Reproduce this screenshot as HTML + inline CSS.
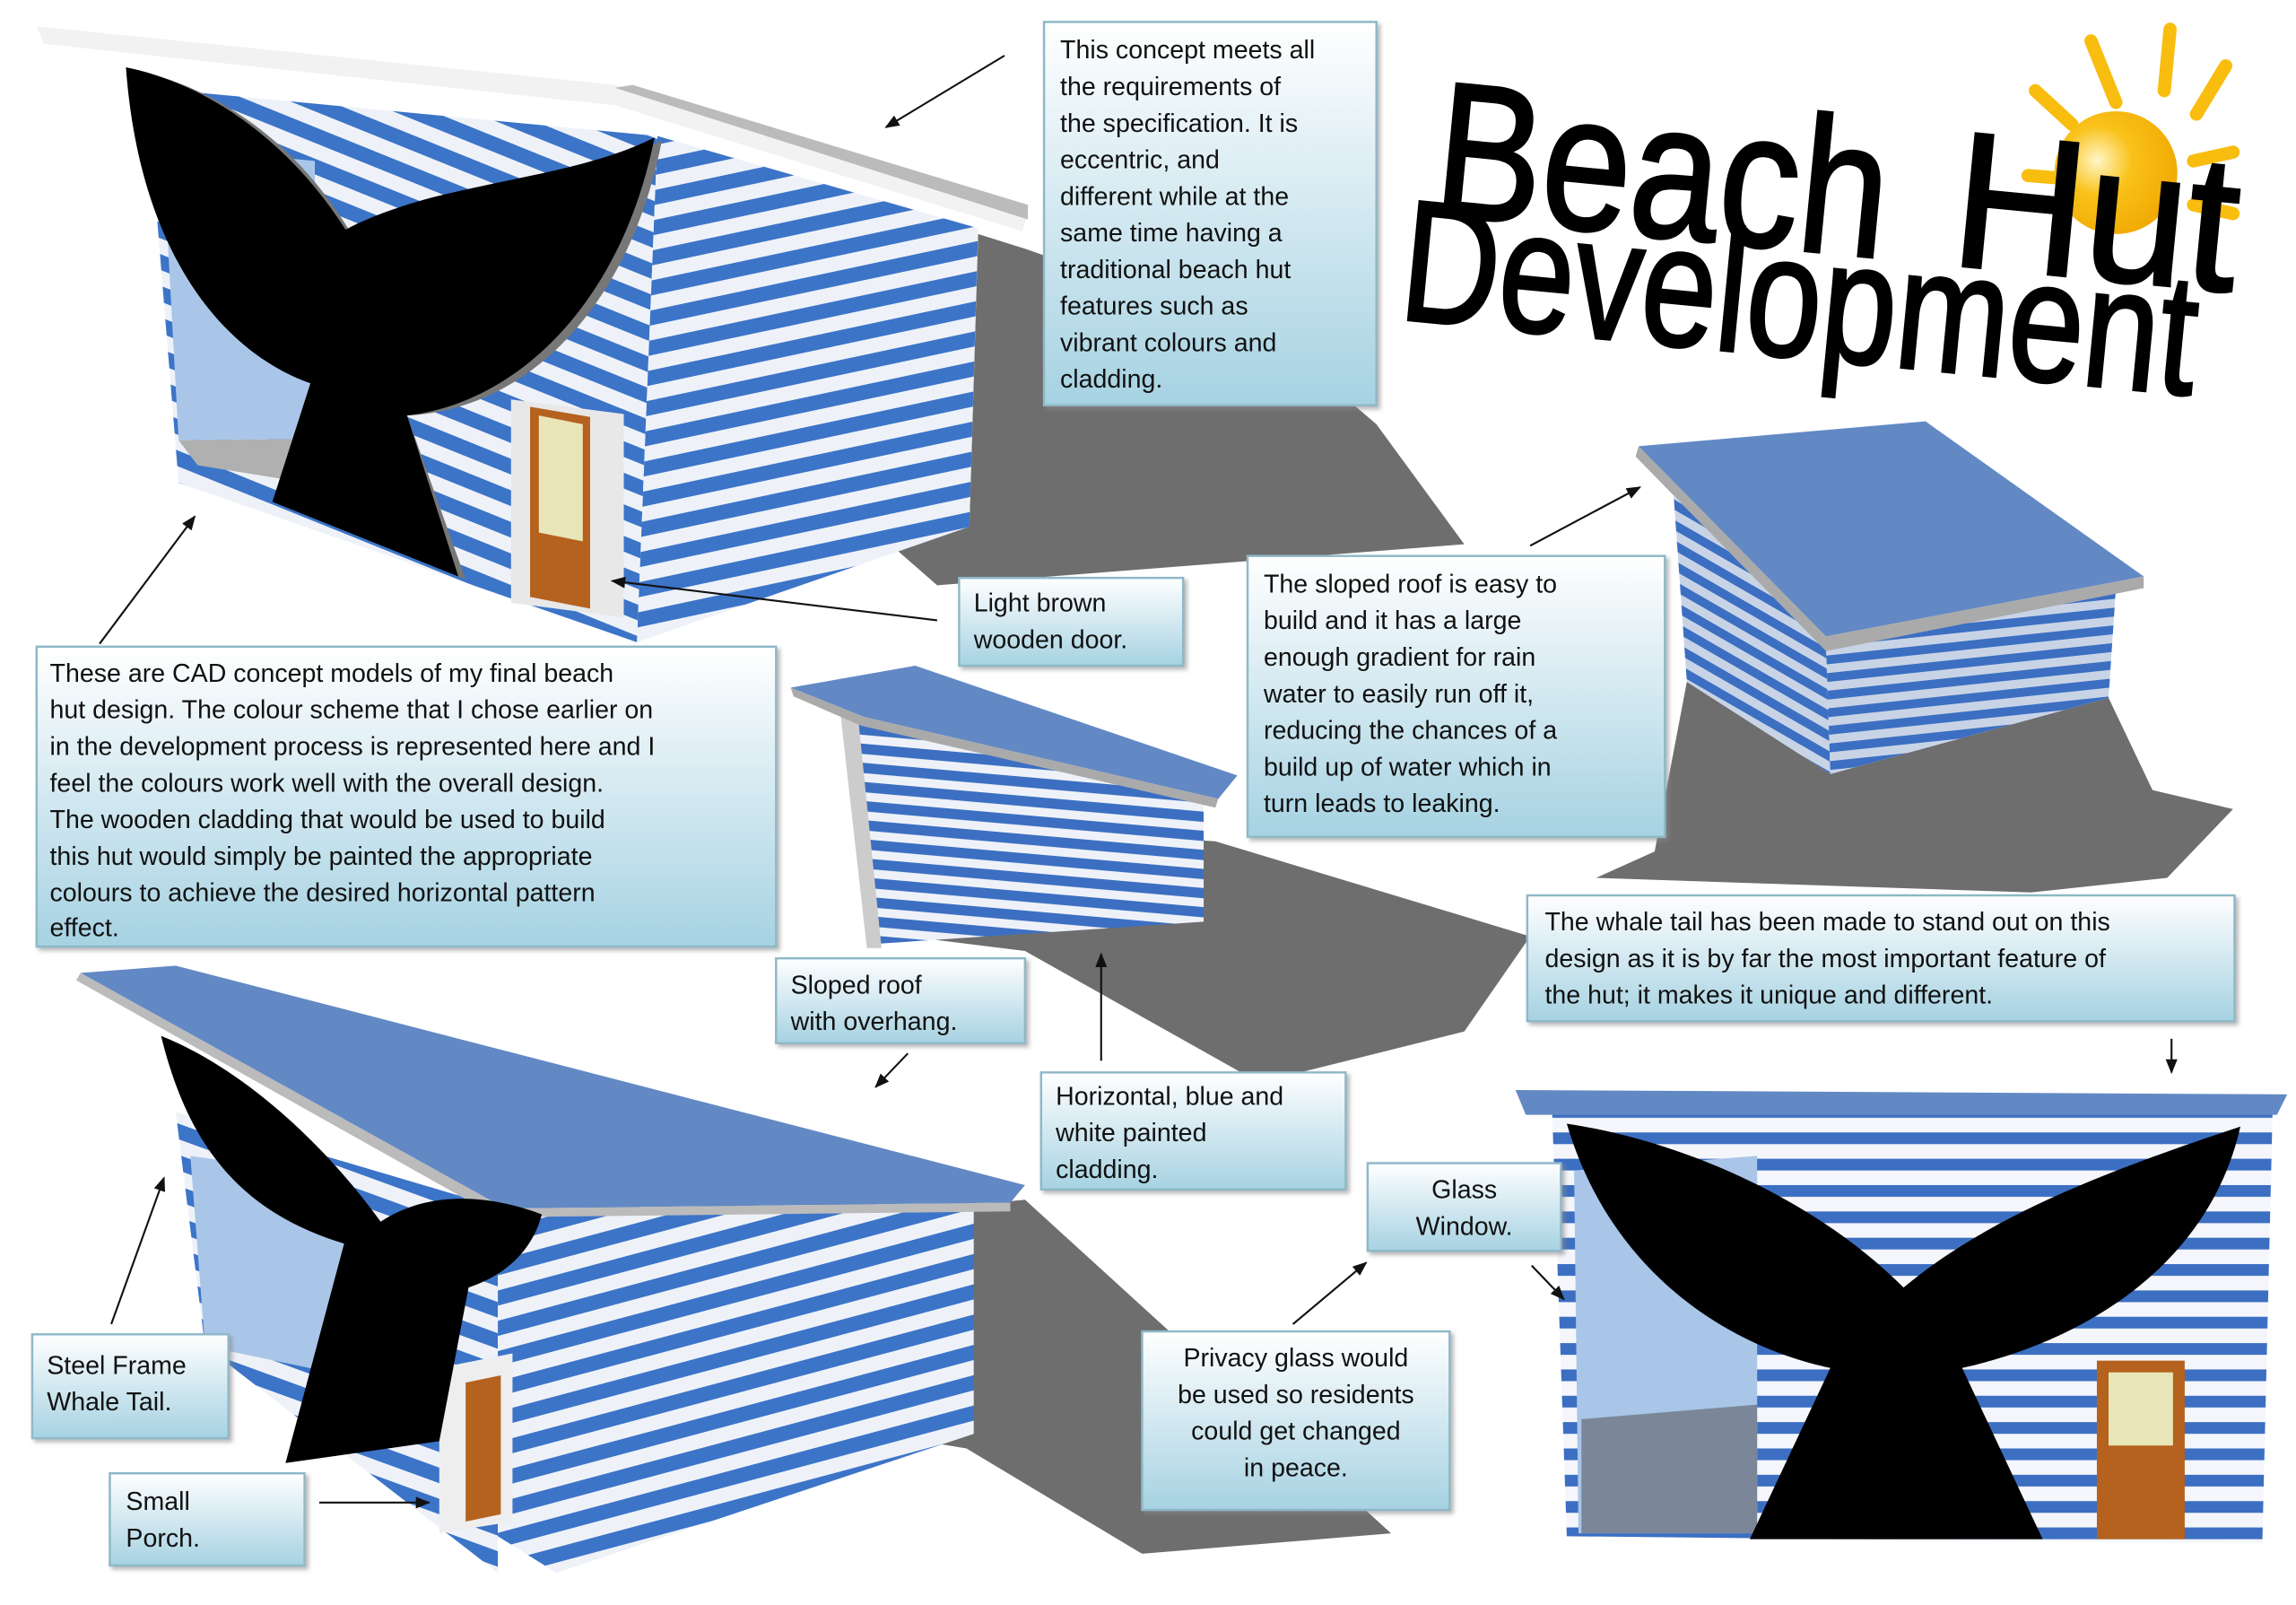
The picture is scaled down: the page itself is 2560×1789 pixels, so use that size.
<!DOCTYPE html>
<html><head><meta charset="utf-8"><style>
html,body{margin:0;padding:0;background:#fff;}
svg{display:block;}
text{font-family:"Liberation Sans",sans-serif;fill:#111;}
</style></head><body>
<svg width="2560" height="1789" viewBox="0 0 1568 1097" preserveAspectRatio="none" xmlns="http://www.w3.org/2000/svg">
<defs>
<linearGradient id="bx" x1="0" y1="0" x2="0" y2="1"><stop offset="0" stop-color="#ffffff"/><stop offset="1" stop-color="#a6d2e2"/></linearGradient>
<pattern id="st1" width="40" height="20" patternUnits="userSpaceOnUse" patternTransform="rotate(-12)"><rect width="40" height="20" fill="#eef2f8"/><rect width="40" height="10" fill="#3c74c8"/></pattern>
<pattern id="st1f" width="40" height="20" patternUnits="userSpaceOnUse" patternTransform="rotate(22)"><rect width="40" height="20" fill="#eef2f8"/><rect width="40" height="10" fill="#3c74c8"/></pattern>
<pattern id="st2" width="40" height="13" patternUnits="userSpaceOnUse" patternTransform="rotate(5)"><rect width="40" height="13" fill="#eef2f8"/><rect width="40" height="7" fill="#3c6fc2"/></pattern>
<pattern id="st3" width="40" height="12" patternUnits="userSpaceOnUse" patternTransform="rotate(-6)"><rect width="40" height="12" fill="#c8d4e6"/><rect width="40" height="6" fill="#3c6fc2"/></pattern>
<pattern id="st3f" width="40" height="12" patternUnits="userSpaceOnUse" patternTransform="rotate(30)"><rect width="40" height="12" fill="#c8d4e6"/><rect width="40" height="6" fill="#3c6fc2"/></pattern>
<pattern id="st4" width="40" height="18" patternUnits="userSpaceOnUse"><rect width="40" height="18" fill="#f4f6fb"/><rect width="40" height="8" fill="#3c6fc2"/></pattern>
<pattern id="st5" width="40" height="20" patternUnits="userSpaceOnUse" patternTransform="rotate(-15)"><rect width="40" height="20" fill="#eef2f8"/><rect width="40" height="10" fill="#3c74c8"/></pattern>
<pattern id="st5f" width="40" height="20" patternUnits="userSpaceOnUse" patternTransform="rotate(20)"><rect width="40" height="20" fill="#eef2f8"/><rect width="40" height="10" fill="#3c74c8"/></pattern>
<radialGradient id="sun" cx="0.35" cy="0.4" r="0.7"><stop offset="0" stop-color="#fff6c8"/><stop offset="0.4" stop-color="#f9c21a"/><stop offset="1" stop-color="#f0a800"/></radialGradient>
<marker id="ar" markerWidth="10" markerHeight="8" refX="9" refY="4" orient="auto" markerUnits="userSpaceOnUse"><path d="M0,0 L10,4 L0,8 Z" fill="#111"/></marker>
<filter id="sh" x="-5%" y="-5%" width="115%" height="120%"><feDropShadow dx="2" dy="2" stdDeviation="1.5" flood-color="#888" flood-opacity="0.6"/></filter>
</defs>

<!-- shadows -->
<polygon points="668,160 662,360 560,330 640,400 1000,372 940,290 870,230 700,170" fill="#6e6e6e"/>
<polygon points="600,560 830,575 1045,640 1000,705 860,740 700,650 620,640" fill="#6e6e6e"/>
<polygon points="1152,466 1250,529 1440,477 1470,540 1525,553 1480,600 1387,610 1090,600 1130,582" fill="#6e6e6e"/>
<polygon points="600,830 700,820 950,1048 780,1062 660,990 600,980" fill="#6e6e6e"/>

<!-- top-left hut -->
<polygon points="100,60 449,93 435,439 122,330" fill="url(#st1f)"/>
<polygon points="111,100 215,110 215,300 122,301" fill="#a9c6e8"/>
<polygon points="122,301 215,300 240,335 135,318" fill="#b0b0b0"/>
<polygon points="449,93 668,156 662,360 435,439" fill="url(#st1)"/>
<polygon points="25,18 420,58 702,146 698,158 420,72 30,30" fill="#f2f2f2"/>
<polygon points="420,60 432,58 702,140 702,150" fill="#bbb"/>
<polygon points="349,273 426,283 426,422 349,412" fill="#e8e8e8"/>
<polygon points="362,278 403,285 403,416 362,408" fill="#b5621f"/>
<polygon points="368,284 398,290 398,370 368,364" fill="#e8e6b8"/>
<path d="M92,48 C105,160 170,240 215,262 L192,345 L318,396 L278,284 C360,280 430,210 452,96 C410,120 360,126 300,140 C270,148 250,158 240,160 C205,100 150,60 92,48 Z" fill="#777"/>
<path d="M86,46 C95,170 150,240 212,262 L186,343 L313,394 L278,284 C355,275 425,205 447,94 C405,115 355,120 295,135 C265,143 245,152 236,157 C200,100 145,58 86,46 Z" fill="#000"/>

<!-- middle hut -->
<polygon points="580,490 822,545 822,630 600,645 585,570" fill="url(#st2)"/>
<polygon points="574,488 586,490 602,648 592,648" fill="#ccc"/>
<polygon points="540,470 625,455 845,530 832,546 590,490" fill="#6289c4"/>
<polygon points="540,470 590,490 832,546 830,552 588,496 542,476" fill="#aaa"/>

<!-- right hut -->
<polygon points="1143,339 1247,440 1250,529 1152,466" fill="url(#st3f)"/>
<polygon points="1247,440 1445,402 1440,477 1250,529" fill="url(#st3)"/>
<polygon points="1119,305 1315,288 1464,394 1247,435" fill="#6289c4"/>
<polygon points="1119,305 1247,435 1464,394 1464,402 1247,445 1117,312" fill="#aaa"/>

<!-- bottom-left hut -->
<polygon points="120,760 340,825 340,1075 140,920" fill="url(#st5f)"/>
<polygon points="130,790 235,805 235,940 140,920" fill="#a9c6e8"/>
<polygon points="340,825 665,820 665,980 380,1075 340,1050" fill="url(#st5)"/>
<polygon points="55,665 120,660 700,810 690,822 345,826" fill="#6289c4"/>
<polygon points="55,665 345,826 690,822 690,828 340,832 52,670" fill="#bbb"/>
<polygon points="300,935 350,925 350,1040 300,1048" fill="#eee"/>
<polygon points="318,945 342,940 342,1035 318,1040" fill="#b5621f"/>
<path d="M110,708 C130,790 170,830 235,850 L195,1000 L300,985 L320,880 C350,870 365,850 370,830 C330,815 290,815 260,835 C220,780 165,730 110,708 Z" fill="#000"/>

<!-- bottom-right hut -->
<polygon points="1060,760 1552,760 1545,1055 1070,1050" fill="url(#st4)"/>
<polygon points="1075,800 1200,790 1200,1048 1078,1048" fill="#a9c6e8"/>
<polygon points="1080,970 1200,960 1200,1048 1080,1048" fill="#7b8799"/>
<polygon points="1035,745 1562,748 1555,762 1042,762" fill="#6289c4"/>
<polygon points="1432,930 1492,930 1492,1052 1432,1052" fill="#b5621f"/>
<rect x="1440" y="938" width="44" height="50" fill="#e8e6b8"/>
<path d="M1070,768 C1100,870 1180,920 1250,935 L1195,1052 L1395,1052 L1340,935 C1430,915 1510,860 1530,770 C1440,800 1360,830 1300,880 C1240,820 1150,780 1070,768 Z" fill="#000"/>

<!-- title -->
<g>
<line x1="1445" y1="70" x2="1428" y2="28" stroke="#f9bd10" stroke-width="9" stroke-linecap="round"/>
<line x1="1478" y1="62" x2="1482" y2="20" stroke="#f9bd10" stroke-width="9" stroke-linecap="round"/>
<line x1="1500" y1="78" x2="1520" y2="45" stroke="#f9bd10" stroke-width="9" stroke-linecap="round"/>
<line x1="1498" y1="110" x2="1525" y2="104" stroke="#f9bd10" stroke-width="9" stroke-linecap="round"/>
<line x1="1498" y1="140" x2="1525" y2="146" stroke="#f9bd10" stroke-width="9" stroke-linecap="round"/>
<line x1="1415" y1="85" x2="1390" y2="62" stroke="#f9bd10" stroke-width="9" stroke-linecap="round"/>
<line x1="1385" y1="120" x2="1410" y2="122" stroke="#f9bd10" stroke-width="9" stroke-linecap="round"/>
<circle cx="1445" cy="118" r="42" fill="url(#sun)"/>
</g>
<g transform="rotate(5.5 1240 150)">
<text x="978" y="172" font-size="132" textLength="310" lengthAdjust="spacingAndGlyphs" style="fill:#000" stroke="#000" stroke-width="2">Beach</text>
<text x="1333" y="172" font-size="132" textLength="195" lengthAdjust="spacingAndGlyphs" style="fill:#000" stroke="#000" stroke-width="2">Hut</text>
<text x="962" y="245" font-size="118" textLength="545" lengthAdjust="spacingAndGlyphs" style="fill:#000" stroke="#000" stroke-width="2">Development</text>
</g>

<!-- boxes -->
<g filter="url(#sh)" fill="url(#bx)" stroke="#8fb8c8" stroke-width="1.5">
<rect x="713" y="15" width="227" height="262"/>
<rect x="25" y="442" width="505" height="205"/>
<rect x="655" y="395" width="153" height="60"/>
<rect x="852" y="380" width="285" height="192"/>
<rect x="530" y="655" width="170" height="58"/>
<rect x="1043" y="612" width="483" height="86"/>
<rect x="711" y="733" width="208" height="80"/>
<rect x="934" y="795" width="132" height="60"/>
<rect x="780" y="910" width="210" height="122"/>
<rect x="22" y="912" width="134" height="71"/>
<rect x="75" y="1007" width="133" height="63"/>
</g>

<g font-size="17.5">
<text x="724" y="40">This concept meets all</text>
<text x="724" y="65">the requirements of</text>
<text x="724" y="90">the specification. It is</text>
<text x="724" y="115">eccentric, and</text>
<text x="724" y="140">different while at the</text>
<text x="724" y="165">same time having a</text>
<text x="724" y="190">traditional beach hut</text>
<text x="724" y="215">features such as</text>
<text x="724" y="240">vibrant colours and</text>
<text x="724" y="265">cladding.</text>

<text x="34" y="466">These are CAD concept models of my final beach</text>
<text x="34" y="491">hut design. The colour scheme that I chose earlier on</text>
<text x="34" y="516">in the development process is represented here and I</text>
<text x="34" y="541">feel the colours work well with the overall design.</text>
<text x="34" y="566">The wooden cladding that would be used to build</text>
<text x="34" y="591">this hut would simply be painted the appropriate</text>
<text x="34" y="616">colours to achieve the desired horizontal pattern</text>
<text x="34" y="640">effect.</text>

<text x="665" y="418">Light brown</text>
<text x="665" y="443">wooden door.</text>

<text x="863" y="405">The sloped roof is easy to</text>
<text x="863" y="430">build and it has a large</text>
<text x="863" y="455">enough gradient for rain</text>
<text x="863" y="480">water to easily run off it,</text>
<text x="863" y="505">reducing the chances of a</text>
<text x="863" y="530">build up of water which in</text>
<text x="863" y="555">turn leads to leaking.</text>

<text x="540" y="679">Sloped roof</text>
<text x="540" y="704">with overhang.</text>

<text x="1055" y="636">The whale tail has been made to stand out on this</text>
<text x="1055" y="661">design as it is by far the most important feature of</text>
<text x="1055" y="686">the hut; it makes it unique and different.</text>

<text x="721" y="755">Horizontal, blue and</text>
<text x="721" y="780">white painted</text>
<text x="721" y="805">cladding.</text>

<text x="1000" y="819" text-anchor="middle">Glass</text>
<text x="1000" y="844" text-anchor="middle">Window.</text>

<text x="885" y="934" text-anchor="middle">Privacy glass would</text>
<text x="885" y="959" text-anchor="middle">be used so residents</text>
<text x="885" y="984" text-anchor="middle">could get changed</text>
<text x="885" y="1009" text-anchor="middle">in peace.</text>

<text x="32" y="939">Steel Frame</text>
<text x="32" y="964">Whale Tail.</text>

<text x="86" y="1032">Small</text>
<text x="86" y="1057">Porch.</text>
</g>

<!-- arrows -->
<g stroke="#111" stroke-width="1.3" marker-end="url(#ar)">
<line x1="686" y1="38" x2="605" y2="87"/>
<line x1="68" y1="440" x2="133" y2="353"/>
<line x1="640" y1="424" x2="418" y2="397"/>
<line x1="1045" y1="373" x2="1120" y2="333"/>
<line x1="620" y1="720" x2="598" y2="743"/>
<line x1="752" y1="725" x2="752" y2="652"/>
<line x1="1483" y1="710" x2="1483" y2="733"/>
<line x1="883" y1="905" x2="933" y2="863"/>
<line x1="1046" y1="865" x2="1068" y2="888"/>
<line x1="76" y1="905" x2="112" y2="805"/>
<line x1="218" y1="1027" x2="293" y2="1027"/>
</g>
</svg>
</body></html>
